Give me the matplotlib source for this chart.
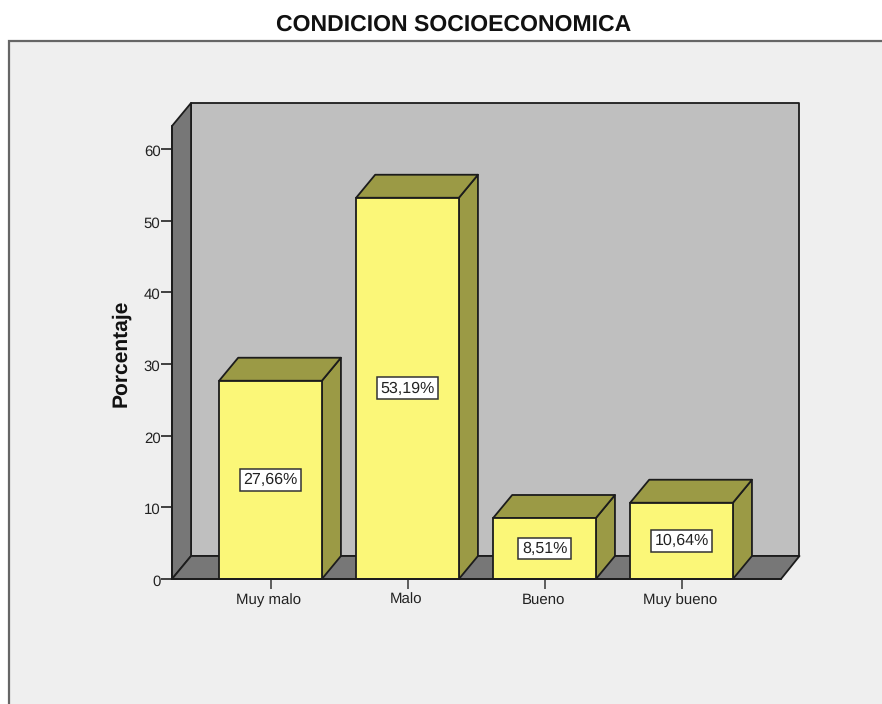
from matplotlib import pyplot as plt
from matplotlib.patches import Rectangle
from matplotlib.transforms import ScaledTranslation

plt.rcParams['font.family'] = ['Liberation Sans', 'DejaVu Sans']
plt.rcParams['text.hinting'] = 'no_hinting'
plt.rcParams['text.hinting_factor'] = 1

# Values
categories = ['Muy malo', 'Malo', 'Bueno', 'Muy bueno']
percentages = [27.66, 53.19, 8.51, 10.64]
value_labels = ['27,66%', '53,19%', '8,51%', '10,64%']
y_ticks = [0, 10, 20, 30, 40, 50, 60]

W, H = 882, 704
LINE = '#1c1c1c'
PANEL = '#efefef'
WALL = '#bfbfbf'
FLOOR = '#777777'
BAR_FRONT = '#fbf778'
BAR_SHADE = '#9b9a45'

fig = plt.figure(figsize=(W / 100, H / 100), dpi=100, facecolor='white')

# grey panel behind the chart, runs off the bottom and right edges
fig.add_artist(Rectangle((9 / W, -0.02), 1, 1 - 41 / H + 0.02, transform=fig.transFigure,
                         facecolor=PANEL, edgecolor='#666666', linewidth=1.6, zorder=-1))
fig.text(453.5 / W, 1 - 24.5 / H, 'CONDICION SOCIOECONOMICA', ha='center', va='center',
         fontsize=16.6, fontweight='bold', color='#111111')

# axes is the front plane of the 3D box
ax = fig.add_axes([172 / W, 1 - 579 / H, (781 - 172) / W, (579 - 126) / H])
ax.set_xlim(-0.719, 3.726)
ax.set_ylim(0, 63.2)
ax.patch.set_visible(False)
for side in ['top', 'right']:
    ax.spines[side].set_visible(False)
for side in ['left', 'bottom']:
    ax.spines[side].set_color(LINE)
    ax.spines[side].set_linewidth(1.3)
    ax.spines[side].set_zorder(20)

dx, dy = 0.139, 3.21  # depth offset in data units
dx_right = 0.135
x0, x1 = ax.get_xlim()
y0, y1 = ax.get_ylim()
bar_w = 0.75


def poly(xs, ys, color, z):
    ax.fill(xs, ys, facecolor=color, edgecolor=LINE, linewidth=1.3, clip_on=False, zorder=z,
            joinstyle='round')


# back wall, left wall, floor
poly([x0 + dx, x1 + dx_right, x1 + dx_right, x0 + dx], [y0 + dy, y0 + dy, y1 + dy, y1 + dy], WALL, 1)
poly([x0, x0 + dx, x0 + dx, x0], [y0, y0 + dy, y1 + dy, y1], FLOOR, 2)
poly([x0, x1, x1 + dx_right, x0 + dx], [y0, y0, y0 + dy, y0 + dy], FLOOR, 2)

for i, (val, lab) in enumerate(zip(percentages, value_labels)):
    l, r = i - bar_w / 2, i + bar_w / 2
    poly([r, r + dx, r + dx, r], [0, dy, val + dy, val], BAR_SHADE, 3)
    poly([l, r, r + dx, l + dx], [val, val, val + dy, val + dy], BAR_SHADE, 3)
    ax.bar(i, val, width=bar_w, color=BAR_FRONT, edgecolor=LINE, linewidth=1.3, zorder=4,
           clip_on=False)
    ax.text(i, val / 2, lab, ha='center', va='center', fontsize=11.2, color='#222222', zorder=6,
            bbox=dict(boxstyle='square,pad=0.22', facecolor='white', edgecolor='#333333',
                      linewidth=1.1))

ax.set_xticks(range(len(categories)))
ax.set_xticklabels(categories, va='baseline')
ax.set_yticks(y_ticks)
ax.tick_params(axis='x', length=7, width=1.2, color='#444444', labelsize=10.6, pad=11,
               labelcolor='#222222')
ax.tick_params(axis='y', length=8, width=1.2, color='#222222', labelsize=10.8, pad=0.3,
               labelcolor='#222222')
# tick labels in the reference sit a little off the tick marks
for label in ax.get_yticklabels():
    label.set_transform(label.get_transform() + ScaledTranslation(0, -1.5 / 100, fig.dpi_scale_trans))
for label in ax.get_xticklabels():
    label.set_transform(label.get_transform() + ScaledTranslation(-1.5 / 100, 0, fig.dpi_scale_trans))
fig.text(120.5 / W, 1 - 353 / H, 'Porcentaje', rotation=90, ha='center', va='center',
         fontsize=15.4, fontweight='bold', color='#111111')

fig.savefig('out.png', dpi=100)
